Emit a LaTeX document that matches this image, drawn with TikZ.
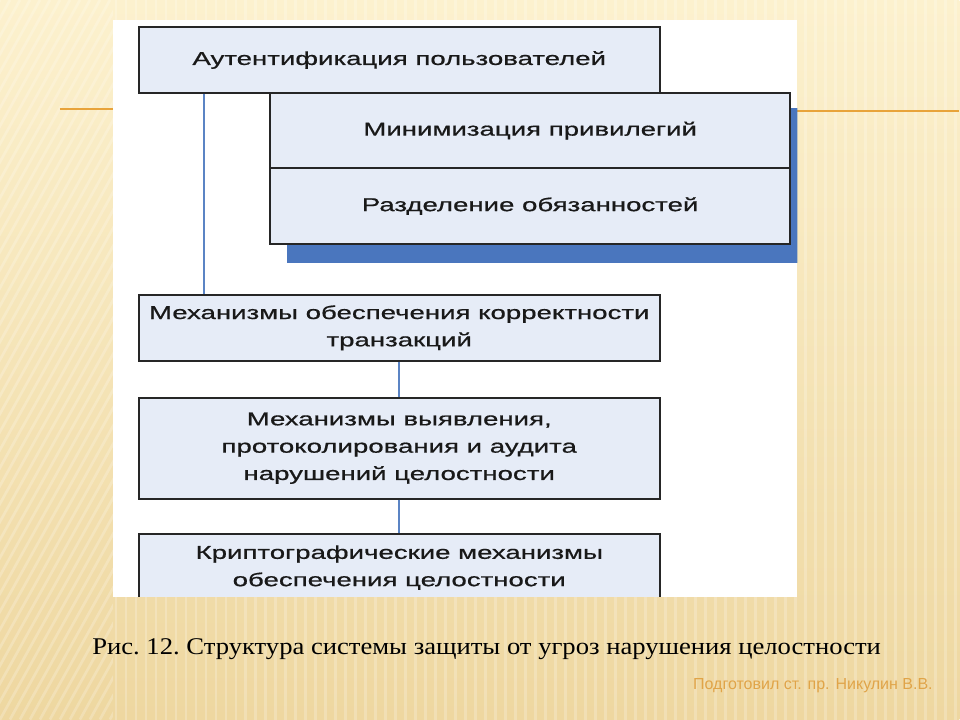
\documentclass[tikz,border=0pt]{standalone}
\usepackage{fontspec}
\setmainfont{Liberation Serif}
\newfontfamily\boxfont[FakeStretch=1.48,FakeBold=0.7]{Liberation Sans}
\newfontfamily\capfont[FakeStretch=1.11]{Liberation Serif}
\newfontfamily\notefont{Liberation Sans}
\usetikzlibrary{positioning,calc,backgrounds}

\definecolor{boxfill}{HTML}{E6ECF7}
\definecolor{shadowblue}{HTML}{4A76BE}
\definecolor{linkblue}{HTML}{5B84C4}
\definecolor{slideorange}{HTML}{E8A33A}
\definecolor{bgtop}{HTML}{FCF1CE}
\definecolor{bgbot}{HTML}{EED7A0}
\definecolor{footorange}{HTML}{E0A448}

\tikzset{
  block/.style={draw=black!85, line width=1.5pt, fill=boxfill, align=center,
    inner sep=0pt, text=black!90, minimum width=390.75pt,
    font=\boxfont\fontsize{14}{20.5}\selectfont},
  link/.style={draw=linkblue, line width=1.1pt},
  stripe/.style={draw=white, opacity=0.22, line width=2pt},
}

\begin{document}
\begin{tikzpicture}[x=0.75pt,y=-0.75pt]
  \node[block, minimum height=49.5pt] (auth) at (399.5,60)
    {Аутентификация пользователей};
  \node[block, minimum height=56.6pt] (minpriv) at (530.5,130.75)
    {Минимизация привилегий};
  \node[block, minimum height=56.6pt, below=-1.5pt of minpriv] (duties)
    {Разделение обязанностей};
  \node[block, minimum height=49.5pt] (trans) at (399.5,328)
    {Механизмы обеспечения корректности\\транзакций};
  \node[block, minimum height=75.75pt] (audit) at (399.5,448.5)
    {Механизмы выявления,\\протоколирования и аудита\\нарушений целостности};
  \begin{scope}
    \clip (113,20) rectangle (798,597);
    \node[block, minimum height=50pt] (crypto) at (399.5,568)
      {Криптографические механизмы\\обеспечения целостности};
  \end{scope}

  % connectors
  \coordinate (a1) at ([xshift=49.5pt]auth.south west);
  \draw[link] (a1) -- (a1 |- trans.north);
  \draw[link] (trans) -- (audit);
  \draw[link] (audit) -- (crypto);

  \begin{scope}[on background layer]
    % slide background
    \fill[top color=bgtop, bottom color=bgbot] (0,0) rectangle (960,720);
    \begin{scope}
      \clip (0,0) rectangle (113,720);
      \foreach \i in {-400,-390,...,120}
        \draw[stripe] (\i,720) -- ++(400,-720);
    \end{scope}
    \begin{scope}
      \clip (113,0) rectangle (960,720);
      \foreach \i in {116,126,...,960}
        \draw[stripe] (\i,0) -- (\i,720);
    \end{scope}
    \draw[slideorange, line width=1pt] (60,109) -- (113,109);
    \draw[slideorange, line width=1pt] (798,111) -- (960,111);
    % white panel and the shadow of the middle pair
    \fill[white] (113,20) rectangle (798,597);
    \clip (113,20) rectangle (798,597);
    \fill[shadowblue] ([xshift=14pt,yshift=-12pt]minpriv.north west)
      rectangle ([xshift=14pt,yshift=-13.5pt]duties.south east);
  \end{scope}

  % caption and footer
  \node[font=\capfont\fontsize{18}{21}\selectfont] (caption) at (487,650)
    {\frenchspacing Рис. 12. Структура системы защиты от угроз нарушения целостности};
  \node[anchor=east, text=footorange, font=\notefont\fontsize{12}{14}\selectfont] (footer) at (938,686)
    {Подготовил ст. пр. Никулин В.В.};
\end{tikzpicture}
\end{document}
